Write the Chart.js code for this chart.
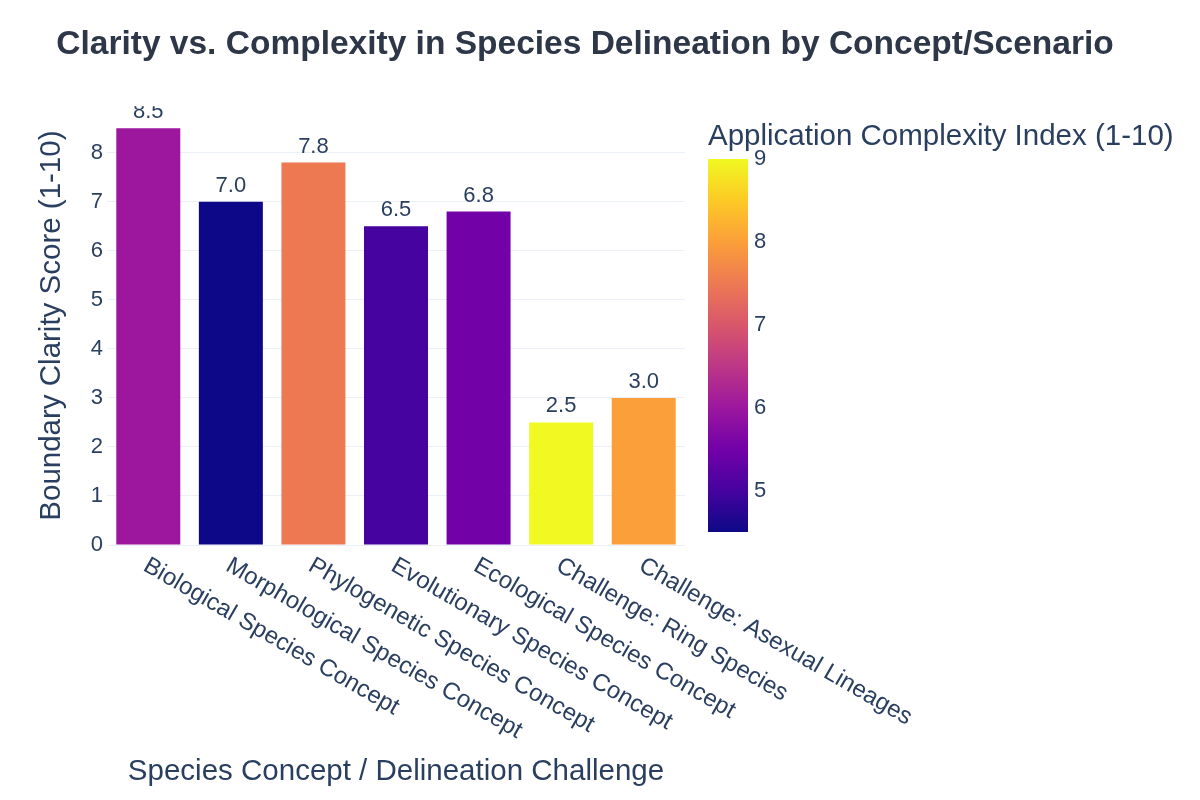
<!DOCTYPE html>
<html>
<head>
<meta charset="utf-8">
<script src="https://cdn.jsdelivr.net/npm/chart.js@4"></script>
<style>
  html, body { margin: 0; padding: 0; background: #fff; }
  #wrap { width: 1200px; height: 800px; }
</style>
</head>
<body>
<div id="wrap"><canvas id="chart" width="1200" height="800"></canvas></div>
<script>
// ── DATA ───────────────────────────────────────────────────────
const concepts = [
  'Biological Species Concept',
  'Morphological Species Concept',
  'Phylogenetic Species Concept',
  'Evolutionary Species Concept',
  'Ecological Species Concept',
  'Challenge: Ring Species',
  'Challenge: Asexual Lineages'
];
const clarityScores = [8.5, 7.0, 7.8, 6.5, 6.8, 2.5, 3.0];
const complexityIndex = [6.0, 4.5, 7.5, 5.0, 5.5, 9.0, 8.0];
const clarityTicks = [0, 1, 2, 3, 4, 5, 6, 7, 8];
const complexityTicks = [5, 6, 7, 8, 9];

// plasma colour scale
const plasma = ['#0d0887', '#46039f', '#7201a8', '#9c179e', '#bd3786',
                '#d8576b', '#ed7953', '#fb9f3a', '#fdca26', '#f0f921'];

const FONT = "'Liberation Sans', Arial, sans-serif";
const TEXT = '#2a3f5f';
const cMin = Math.min(...complexityIndex);
const cMax = Math.max(...complexityIndex);

function hexRgb(h) {
  return [1, 3, 5].map(i => parseInt(h.slice(i, i + 2), 16));
}
function plasmaAt(t) {
  t = Math.max(0, Math.min(1, t));
  const pos = t * (plasma.length - 1);
  const i = Math.min(Math.floor(pos), plasma.length - 2);
  const f = pos - i;
  const a = hexRgb(plasma[i]), b = hexRgb(plasma[i + 1]);
  const c = a.map((v, k) => Math.round(v + (b[k] - v) * f));
  return `rgb(${c[0]},${c[1]},${c[2]})`;
}
const barColors = complexityIndex.map(v => plasmaAt((v - cMin) / (cMax - cMin)));

// ── PLUGINS ────────────────────────────────────────────────────
const colorbarPlugin = {
  id: 'colorbar',
  afterLayout(chart) {
    // colorbar is shorter than the plot area
    const s = chart.scales.cb;
    s.top = 159; s.bottom = 532; s.height = s.bottom - s.top;
    s.configure();
  },
  afterDraw(chart) {
    const { ctx } = chart;
    const s = chart.scales.cb;
    const x0 = s.left + 23, w = 40;
    const yTop = s.getPixelForValue(cMax), yBot = s.getPixelForValue(cMin);
    const g = ctx.createLinearGradient(0, yBot, 0, yTop);
    plasma.forEach((c, i) => g.addColorStop(i / (plasma.length - 1), c));
    ctx.save();
    ctx.fillStyle = g;
    ctx.fillRect(x0, yTop, w, yBot - yTop);
    ctx.fillStyle = TEXT;
    ctx.font = `29.5px ${FONT}`;
    ctx.textAlign = 'left';
    ctx.textBaseline = 'alphabetic';
    ctx.fillText('Application Complexity Index (1-10)', x0, 145);
    ctx.restore();
  }
};

const labelsPlugin = {
  id: 'barLabels',
  afterDatasetsDraw(chart) {
    const { ctx, chartArea } = chart;
    const meta = chart.getDatasetMeta(0);
    ctx.save();
    ctx.beginPath();
    ctx.rect(chartArea.left, chartArea.top, chartArea.right - chartArea.left, chartArea.bottom - chartArea.top);
    ctx.clip();
    ctx.fillStyle = TEXT;
    ctx.font = `22px ${FONT}`;
    ctx.textAlign = 'center';
    ctx.textBaseline = 'alphabetic';
    meta.data.forEach((bar, i) => {
      ctx.fillText(clarityScores[i].toFixed(1), bar.x, bar.y - 10);
    });
    ctx.restore();

    // rotated category labels
    const xs = chart.scales.x;
    ctx.save();
    ctx.fillStyle = TEXT;
    ctx.font = `24px ${FONT}`;
    ctx.textAlign = 'left';
    ctx.textBaseline = 'middle';
    concepts.forEach((lab, i) => {
      const px = xs.getPixelForValue(i);
      ctx.save();
      ctx.translate(px - 3, xs.top + 19);
      ctx.rotate(Math.PI / 6);
      ctx.fillText(lab, 0, 0);
      ctx.restore();
    });
    ctx.restore();
  }
};

// ── CHART ──────────────────────────────────────────────────────
new Chart(document.getElementById('chart'), {
  type: 'bar',
  data: {
    labels: concepts,
    datasets: [{
      data: clarityScores,
      backgroundColor: barColors,
      borderWidth: 0,
      categoryPercentage: 0.775,
      barPercentage: 1.0
    }]
  },
  options: {
    responsive: false,
    animation: false,
    devicePixelRatio: 1,
    layout: { padding: { left: 0, right: 30, top: 0, bottom: 0 } },
    plugins: {
      legend: { display: false },
      tooltip: { enabled: false },
      title: {
        display: true,
        text: 'Clarity vs. Complexity in Species Delineation by Concept/Scenario',
        color: '#2d3748',
        font: { family: FONT, size: 33.5, weight: 'bold' },
        padding: { top: 25, bottom: 41 }
      }
    },
    scales: {
      x: {
        grid: { display: false },
        border: { display: false },
        ticks: { display: false },
        title: {
          display: true,
          text: 'Species Concept / Delineation Challenge',
          color: TEXT,
          font: { family: FONT, size: 29.5 },
          padding: { top: 0, bottom: 10 }
        },
        afterFit: s => { s.height = 255; }
      },
      y: {
        min: 0,
        max: 8.95,
        afterBuildTicks: s => { s.ticks = clarityTicks.map(v => ({ value: v })); },
        grid: { color: '#ebf0f8', lineWidth: 1, drawTicks: false },
        border: { display: false },
        ticks: {
          color: TEXT,
          font: { family: FONT, size: 22 },
          padding: 4
        },
        title: {
          display: true,
          text: 'Boundary Clarity Score (1-10)',
          color: TEXT,
          font: { family: FONT, size: 29.5 },
          padding: { top: 34, bottom: 0 }
        },
        afterFit: s => { s.width = 107; }
      },
      cb: {
        type: 'linear',
        position: 'right',
        min: cMin,
        max: cMax,
        afterBuildTicks: s => { s.ticks = complexityTicks.map(v => ({ value: v })); },
        grid: { display: false, drawTicks: false },
        border: { display: false },
        ticks: {
          color: TEXT,
          font: { family: FONT, size: 22 },
          padding: 69
        },
        afterFit: s => { s.width = 485; }
      }
    }
  },
  plugins: [colorbarPlugin, labelsPlugin]
});
</script>
</body>
</html>
